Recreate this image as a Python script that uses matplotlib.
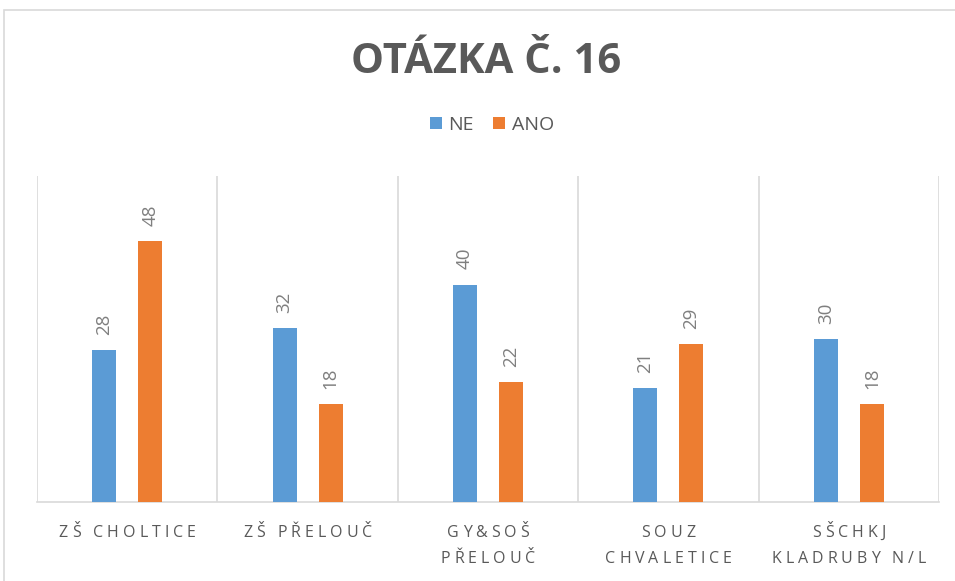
import numpy as np
import matplotlib
matplotlib.use('Agg')
import matplotlib.pyplot as plt
from matplotlib.patches import Rectangle
from matplotlib.font_manager import FontProperties

# data
categories = ['ZŠ CHOLTICE', 'ZŠ PŘELOUČ', 'GY&SOŠ\nPŘELOUČ', 'SOUZ\nCHVALETICE', 'SŠCHKJ\nKLADRUBY N/L']
ne = [28, 32, 40, 21, 30]
ano = [48, 18, 22, 29, 18]

blue = '#5B9BD5'
orange = '#ED7D31'
grid_c = '#D9D9D9'
txt_c = '#595959'

plt.rcParams['font.family'] = ['Open Sans', 'DejaVu Sans']

W, H = 955, 581
fig = plt.figure(figsize=(W/100, H/100), dpi=100)
ax = fig.add_axes([37/W, 1-502/H, (939-37)/W, (502-176)/H])

# chart border (cut at right/bottom like the source)
fig.patches.append(Rectangle((4/W, -0.1), 1.2, 1-10/H+0.1, transform=fig.transFigure,
                             fill=False, edgecolor=grid_c, linewidth=1.2))

x = np.arange(len(categories))
w = 0.133
off = 0.128
b1 = ax.bar(x - off, ne, w, color=blue, label='NE', zorder=3)
b2 = ax.bar(x + off, ano, w, color=orange, label='ANO', zorder=3)

for bars, vals in [(b1, ne), (b2, ano)]:
    for r, v in zip(bars, vals):
        ax.annotate(str(v), (r.get_x() + r.get_width()/2, r.get_height()),
                    xytext=(0, 11), textcoords='offset points', rotation=90,
                    ha='center', va='bottom', fontsize=13.5, color='#7F7F7F')

ax.set_xlim(-0.5, len(categories) - 0.5)
ax.set_ylim(0, 60)
for b in np.arange(-0.5, len(categories), 1):
    ax.axvline(b, color=grid_c, linewidth=1.2, zorder=1)

for s in ['top', 'right', 'left']:
    ax.spines[s].set_visible(False)
ax.spines['bottom'].set_color(grid_c)
ax.spines['bottom'].set_linewidth(1.2)
ax.set_yticks([])
ax.set_xticks([])

# category labels with letter spacing (as in the source)
renderer = fig.canvas.get_renderer()
fp = FontProperties(family=['Open Sans', 'DejaVu Sans'], size=11.5)
base_w = renderer.get_text_width_height_descent('||', fp, ismath=False)[0]

def char_w(ch):
    return renderer.get_text_width_height_descent('|' + ch + '|', fp, ismath=False)[0] - base_w

spacing = 4.0
for i, lab in enumerate(categories):
    xc = ax.transData.transform((i, 0))[0]
    for j, line in enumerate(lab.split('\n')):
        widths = [char_w(c) for c in line]
        total = sum(widths) + spacing * (len(line) - 1)
        xp = xc - total / 2
        yb = 537 + 26 * j
        for c, cw in zip(line, widths):
            fig.text(xp / W, 1 - yb / H, c, ha='left', va='baseline',
                     fontproperties=fp, color=txt_c)
            xp += cw + spacing

fig.text(486/W, 1-73/H, 'OTÁZKA Č. 16', ha='center', va='baseline',
         fontsize=30, fontweight='bold', color=txt_c)
fig.legend(handles=[b1, b2], loc='center', bbox_to_anchor=(492/W, 1-125/H), ncol=2,
           frameon=False, fontsize=14, labelcolor=txt_c, handlelength=0.62, handleheight=0.62,
           handletextpad=0.35, columnspacing=1.0)

fig.savefig('out.png', dpi=100)
